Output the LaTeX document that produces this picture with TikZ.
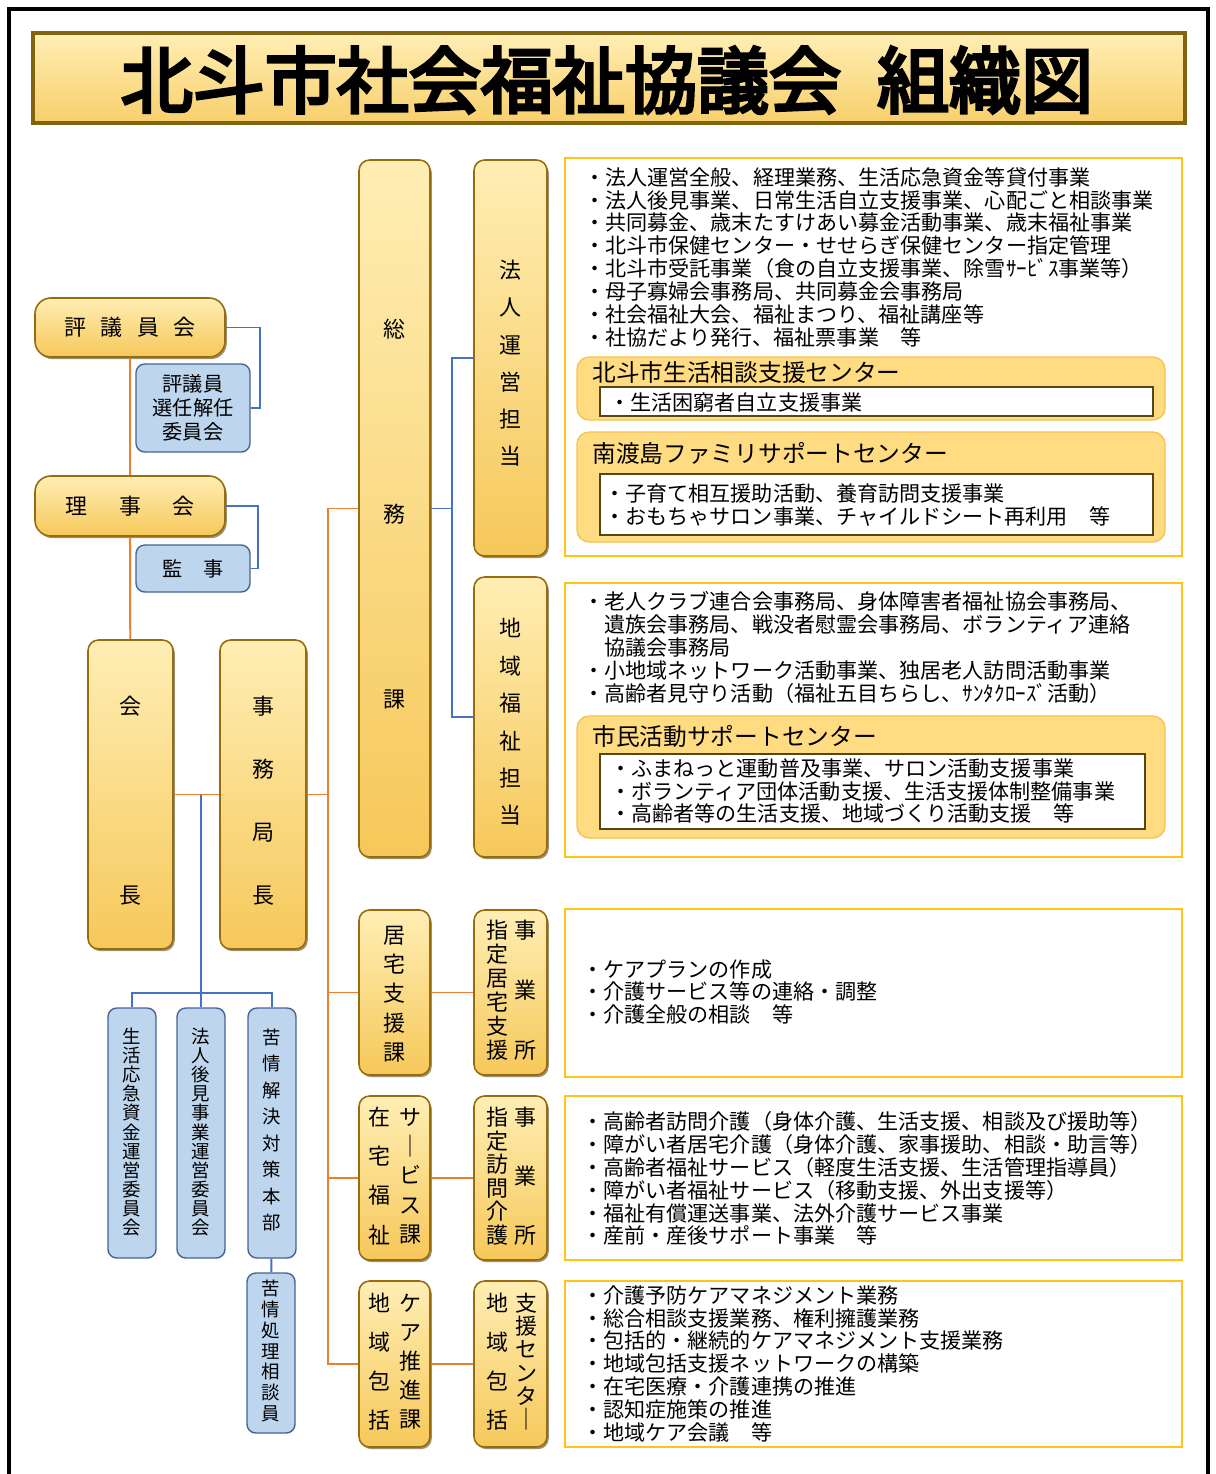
\documentclass[tikz,border=0pt]{standalone}
\usepackage{fontspec}
\setmainfont{Noto Sans CJK JP}
\newfontfamily\hkTitleFont{Noto Sans CJK JP}[FakeBold=4.5]
\usepackage{tikz}
\usetikzlibrary{positioning,fit,shadows,calc}
\definecolor{hkOrange}{RGB}{237,125,49}
\definecolor{hkBlue}{RGB}{68,114,196}
\definecolor{hkGoldLight}{RGB}{255,238,180}
\definecolor{hkGold}{RGB}{246,200,90}
\definecolor{hkGoldEdge}{RGB}{150,108,15}
\definecolor{hkShadow}{RGB}{90,70,20}
\definecolor{hkBlueFill}{RGB}{189,214,238}
\definecolor{hkBlueEdge}{RGB}{70,100,145}
\definecolor{hkFrame}{RGB}{255,196,20}
\definecolor{hkPanel}{RGB}{255,219,130}
\definecolor{hkPanelEdge}{RGB}{246,196,80}
\definecolor{hkInnerEdge}{RGB}{85,70,25}
\definecolor{hkBannerEdge}{RGB}{130,100,15}

\begin{document}
\begin{tikzpicture}[x=0.02cm, y=-0.02cm,
  goldbox/.style={draw=hkGoldEdge, line width=0.9pt, rounded corners=6pt, top color=hkGoldLight, bottom color=hkGold, inner sep=0pt, drop shadow={shadow xshift=1pt, shadow yshift=-1.2pt, opacity=0.6, fill=hkShadow}},
  banner/.style={draw=hkBannerEdge, line width=2.2pt, top color=hkGoldLight, bottom color=hkGold!80!hkGoldLight, inner sep=0pt, drop shadow={shadow xshift=1pt, shadow yshift=-1.2pt, opacity=0.5, fill=hkShadow}},
  bluebox/.style={draw=hkBlueEdge, line width=0.8pt, rounded corners=5pt, fill=hkBlueFill, inner sep=0pt},
  infobox/.style={draw=hkFrame, line width=1.3pt, fill=white, inner sep=0pt},
  panel/.style={draw=hkPanelEdge, line width=0.8pt, rounded corners=7pt, fill=hkPanel, inner sep=0pt},
  innerbox/.style={draw=hkInnerEdge, line width=1.1pt, fill=white, inner sep=0pt, drop shadow={shadow xshift=0.6pt, shadow yshift=-0.6pt, opacity=0.4, fill=hkShadow}},
  orgline/.style={hkOrange, line width=1.1pt},
  subline/.style={hkBlue, line width=1.1pt},
  boxtext/.style={inner sep=0pt, font=\fontsize{12.5}{15}\selectfont},
  vcol/.style={align=center, inner sep=0pt, font=\fontsize{12.5}{#1}\selectfont},
  bluecol/.style={align=center, inner sep=0pt, font=\fontsize{10.5}{#1}\selectfont},
  body/.style={align=left, anchor=north west, inner sep=0pt, font=\fontsize{12}{13.04}\selectfont},
  paneltitle/.style={anchor=west, inner sep=0pt, font=\fontsize{13.5}{15}\selectfont}]
\useasboundingbox (0,0) rectangle (1216,1474);
\draw[line width=2pt] (9,1474) -- (9,9) -- (1208,9) -- (1208,1474);

\node[banner, fit={(33,33) (1185,123)}] (banner) {};
\node[inner sep=0pt, font=\hkTitleFont\fontsize{41}{45}\selectfont] (title) at (607,80) {北斗市社会福祉協議会\hspace{0.5em}組織図};

\node[goldbox, rounded corners=9pt, fit={(35,298) (225,357)}] (hyogi) {};
\node[boxtext] (hyogiT) at (hyogi.center) {評\hspace{8.2pt}議\hspace{8.2pt}員\hspace{8.2pt}会};
\node[bluebox, fit={(136,364) (250,452)}] (senin) {};
\node[align=center, inner sep=0pt, font=\fontsize{11.5}{13.6}\selectfont] (seninT) at (senin.center) {評議員\\選任解任\\委員会};
\node[goldbox, rounded corners=9pt, fit={(35,476) (225,536)}] (riji) {};
\node[boxtext] (rijiT) at (riji.center) {理\hspace{18pt}事\hspace{18pt}会};
\node[bluebox, fit={(136,545) (250,592)}] (kanji) {};
\node[inner sep=0pt, font=\fontsize{11.5}{14}\selectfont] (kanjiT) at (kanji.center) {監\hspace{11.7pt}事};
\node[goldbox, fit={(88,640) (173,949)}] (kaicho) {};
\node[vcol=107.7] (kaichoT) at (130.5,801) {会\\長};
\node[goldbox, fit={(220,640) (306,949)}] (jimu) {};
\node[vcol=35.9] (jimuT) at (263,801) {事\\務\\局\\長};

\node[bluebox, fit={(108,1008) (156,1258)}] (seikatsu) {};
\node[bluecol=10.9] (seikatsuT) at (132,1132) {生\\活\\応\\急\\資\\金\\運\\営\\委\\員\\会};
\node[bluebox, fit={(177,1008) (225,1258)}] (kouken) {};
\node[bluecol=10.9] (koukenT) at (201,1132) {法\\人\\後\\見\\事\\業\\運\\営\\委\\員\\会};
\node[bluebox, fit={(248,1008) (296,1258)}] (kujou) {};
\node[bluecol=15.1] (kujouT) at (272,1130) {苦\\情\\解\\決\\対\\策\\本\\部};
\node[bluebox, fit={(247,1273) (295,1433)}] (soudanin) {};
\node[bluecol=11.8] (soudaninT) at (271,1351) {苦\\情\\処\\理\\相\\談\\員};

\node[goldbox, fit={(359,160) (430,857)}] (somu) {};
\node[vcol=105.4] (somuT) at (394.5,514) {総\\務\\課};
\node[goldbox, fit={(474,160) (547,556)}] (houjin) {};
\node[vcol=21.2] (houjinT) at (510.5,363.5) {法\\人\\運\\営\\担\\当};
\node[goldbox, fit={(474,577) (547,857)}] (chiiki) {};
\node[vcol=21.3] (chiikiT) at (510.5,722) {地\\域\\福\\祉\\担\\当};
\node[goldbox, fit={(359,910) (430,1075)}] (kyotaku) {};
\node[vcol=16.7] (kyotakuT) at (394.5,994) {居\\宅\\支\\援\\課};
\node[goldbox, fit={(474,910) (547,1075)}] (shitei) {};
\node[vcol=13.6] (shiteiL) at (497,990) {指\\定\\居\\宅\\支\\援};
\node[vcol=34] (shiteiR) at (525,990) {事\\業\\所};
\node[goldbox, fit={(359,1096) (430,1260)}] (zaitaku) {};
\node[vcol=22.3] (zaitakuL) at (379,1176) {在\\宅\\福\\祉};
\node[vcol=16.7] (zaitakuR) at (410,1176) {サ\\｜\\ビ\\ス\\課};
\node[goldbox, fit={(474,1096) (547,1260)}] (houmon) {};
\node[vcol=13.4] (houmonL) at (497,1176) {指\\定\\訪\\問\\介\\護};
\node[vcol=33.4] (houmonR) at (525,1176) {事\\業\\所};
\node[goldbox, fit={(359,1281) (430,1447)}] (houkatsu) {};
\node[vcol=22.1] (houkatsuL) at (379,1361.5) {地\\域\\包\\括};
\node[vcol=16.6] (houkatsuR) at (410,1361.5) {ケ\\ア\\推\\進\\課};
\node[goldbox, fit={(474,1281) (547,1447)}] (shien) {};
\node[vcol=22.1] (shienL) at (497,1361.5) {地\\域\\包\\括};
\node[vcol=13.3] (shienR) at (526,1361.5) {支\\援\\セ\\ン\\タ\\｜};

\draw[orgline] (hyogi) -- (riji) -- (kaicho);
\draw[subline] (hyogi.east) -- ++(34,0) |- (senin.east);
\draw[subline] (riji.east) -- ++(32,0) |- (kanji.east);
\draw[orgline] (kaicho) -- (jimu);
\coordinate (jn) at (201,794.5);
\draw[subline] (jn) -- (kouken.north);
\draw[subline] (seikatsu.north) -- ++(0,-14) -| (kujou.north);
\draw[subline] (kujou) -- (soudanin);
\draw[orgline] (somu.west) -- ++(-30,0) coordinate (spine) |- (houkatsu.west);
\draw[orgline] (jimu) -- (jimu -| spine);
\draw[orgline] (kyotaku) -- (kyotaku -| spine);
\draw[orgline] (zaitaku) -- (zaitaku -| spine);
\draw[orgline] (kyotaku) -- (shitei);
\draw[orgline] (zaitaku) -- (houmon);
\draw[orgline] (houkatsu) -- (shien);
\draw[subline] (houjin.west) -- ++(-21,0) coordinate (fork) |- (chiiki.west);
\draw[subline] (somu) -- (somu -| fork);

\node[infobox, fit={(565,158) (1182,556)}] (info1) {};
\node[body] (info1T) at (584,167) {・法人運営全般、経理業務、生活応急資金等貸付事業\\・法人後見事業、日常生活自立支援事業、心配ごと相談事業\\・共同募金、歳末たすけあい募金活動事業、歳末福祉事業\\・北斗市保健センター・せせらぎ保健センター指定管理\\・北斗市受託事業（食の自立支援事業、除雪ｻｰﾋﾞｽ事業等）\\・母子寡婦会事務局、共同募金会事務局\\・社会福祉大会、福祉まつり、福祉講座等\\・社協だより発行、福祉票事業　等};
\node[panel, fit={(577,357) (1165,420)}] (soudanC) {};
\node[paneltitle] (soudanCT) at (592,372) {北斗市生活相談支援センター};
\node[innerbox, fit={(600,387) (1153,416)}] (soudanCI) {};
\node[body] (soudanCIT) at (609,392) {・生活困窮者自立支援事業};
\node[panel, fit={(577,432) (1165,542)}] (famisapo) {};
\node[paneltitle] (famisapoT) at (592,453) {南渡島ファミリサポートセンター};
\node[innerbox, fit={(600,474) (1153,535)}] (famisapoI) {};
\node[body] (famisapoIT) at (604,483) {・子育て相互援助活動、養育訪問支援事業\\・おもちゃサロン事業、チャイルドシート再利用　等};

\node[infobox, fit={(565,583) (1182,857)}] (info2) {};
\node[body] (info2T) at (583,591) {・老人クラブ連合会事務局、身体障害者福祉協会事務局、\\\hspace*{1em}遺族会事務局、戦没者慰霊会事務局、ボランティア連絡\\\hspace*{1em}協議会事務局\\・小地域ネットワーク活動事業、独居老人訪問活動事業\\・高齢者見守り活動（福祉五目ちらし、ｻﾝﾀｸﾛｰｽﾞ活動）};
\node[panel, fit={(577,716) (1165,838)}] (shimin) {};
\node[paneltitle] (shiminT) at (592,736) {市民活動サポートセンター};
\node[innerbox, fit={(600,754) (1145,829)}] (shiminI) {};
\node[body] (shiminIT) at (610,758) {・ふまねっと運動普及事業、サロン活動支援事業\\・ボランティア団体活動支援、生活支援体制整備事業\\・高齢者等の生活支援、地域づくり活動支援　等};

\node[infobox, fit={(565,909) (1182,1077)}] (info3) {};
\node[body] (info3T) at (582,959) {・ケアプランの作成\\・介護サービス等の連絡・調整\\・介護全般の相談　等};
\node[infobox, fit={(565,1096) (1182,1260)}] (info4) {};
\node[body] (info4T) at (582,1111) {・高齢者訪問介護（身体介護、生活支援、相談及び援助等）\\・障がい者居宅介護（身体介護、家事援助、相談・助言等）\\・高齢者福祉サービス（軽度生活支援、生活管理指導員）\\・障がい者福祉サービス（移動支援、外出支援等）\\・福祉有償運送事業、法外介護サービス事業\\・産前・産後サポート事業　等};
\node[infobox, fit={(565,1281) (1182,1447)}] (info5) {};
\node[body] (info5T) at (582,1285) {・介護予防ケアマネジメント業務\\・総合相談支援業務、権利擁護業務\\・包括的・継続的ケアマネジメント支援業務\\・地域包括支援ネットワークの構築\\・在宅医療・介護連携の推進\\・認知症施策の推進\\・地域ケア会議　等};
\end{tikzpicture}
\end{document}
